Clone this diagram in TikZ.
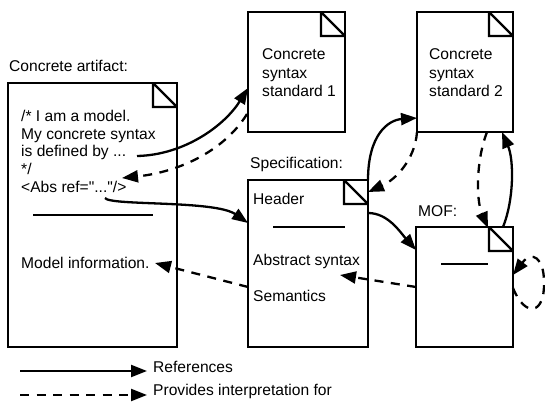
\documentclass[tikz,border=0pt]{standalone}
\usepackage{fontspec}
\setmainfont{Liberation Sans}
% same face without the TeX quote mapping, so " stays straight
\newfontfamily\plainquotes{Liberation Sans}
\usetikzlibrary{arrows.meta}
\begin{document}
\begin{tikzpicture}[x=1pt,y=-1pt,
  lw/.style={line width=2.3pt},
  docbox/.style={lw,draw,rectangle,inner sep=0pt,outer sep=0pt,anchor=north west},
  txt/.style={font=\fontsize{15.6}{18}\selectfont,inner sep=0pt,anchor=base west},
  tip/.style={-{Triangle[length=16pt,width=12pt]}},
  refarrow/.style={lw,tip},
  interp/.style={lw,tip,dash pattern=on 9pt off 7.5pt},
  foldline/.style={lw}
]
\useasboundingbox (0,0) rectangle (545,406);

% documents
\node[docbox,minimum width=169pt,minimum height=264pt] (art) at (8,83) {};
\node[docbox,minimum width=97pt,minimum height=120pt] (cs1) at (248,12) {};
\node[docbox,minimum width=96pt,minimum height=120pt] (cs2) at (417,12) {};
\node[docbox,minimum width=120pt,minimum height=167pt] (spec) at (248,180) {};
\node[docbox,minimum width=97pt,minimum height=120pt] (mof) at (416,227) {};

% folded page corners
\foreach \n in {art,cs1,cs2,spec,mof}
  \draw[foldline] ([xshift=-24pt]\n.north east) -- ++(0,24) -- ++(24,0)
                  ([xshift=-24pt]\n.north east) -- ++(24,24);

% separator rules
\draw[lw] (33,215) -- (153,215);
\draw[lw] (273,227) -- (345,227);
\draw[lw] (441,264) -- (488,264);

% titles
\node[txt] (tart) at (9,72) {Concrete artifact:};
\node[txt] (tspec) at (250,168) {Specification:};
\node[txt] (tmof) at (418,216) {MOF:};

% concrete artifact text
\node[txt] (l1) at (21,122) {/* I am a model.};
\node[txt] (l2) at (21,139.5) {My concrete syntax};
\node[txt] (l3) at (21,157) {is defined by ...};
\node[txt] (l4) at (21,174.5) {*/};
\node[txt,font=\fontsize{15.6}{18}\plainquotes] (l5) at (21,192) {<Abs ref="..."/>};
\node[txt] (l6) at (21,268) {Model information.};

% syntax standards
\node[txt] (c1a) at (262,60) {Concrete};
\node[txt] (c1b) at (262,78.5) {syntax};
\node[txt] (c1c) at (262,97) {standard 1};
\node[txt] (c2a) at (429,60) {Concrete};
\node[txt] (c2b) at (429,78.5) {syntax};
\node[txt] (c2c) at (429,97) {standard 2};

% specification contents
\node[txt] (sh) at (253,204) {Header};
\node[txt] (sa) at (253,265) {Abstract syntax};
\node[txt] (ss) at (253,301) {Semantics};

% connector end points
\coordinate (defby) at (137,156);
\coordinate (cs1in) at (248,88);
\coordinate (cs1out) at (247,114);
\coordinate (artin) at (122,178);
\coordinate (absref) at (105,198);
\coordinate (specin) at (248,223);
\coordinate (specout) at (248,287);
\coordinate (modinf) at (155,263);
\coordinate (spechr) at (368,213);
\coordinate (mofin) at (416,250);
\coordinate (mofout) at (416,287);
\coordinate (absin) at (340,275);
\coordinate (spectop) at (368,180);
\coordinate (cs2in) at (417,118);
\coordinate (cs2out) at (417,132);
\coordinate (specfold) at (368,192);
\coordinate (cs2b1) at (487,132);
\coordinate (moffold) at (488,228);
\coordinate (moftop) at (503,227);
\coordinate (cs2b2) at (502,132);
\coordinate (mofr1) at (513,288);
\coordinate (mofloop) at (544,282);
\coordinate (mofr2) at (513,275);

% references
\draw[refarrow] (defby) .. controls (185,155) and (225,125) .. (cs1in);
\draw[refarrow] (absref) .. controls (110,206) and (215,200) .. (specin);
\draw[refarrow] (spechr) .. controls (388,213) and (400,232) .. (mofin);
\draw[refarrow] (spectop) .. controls (368,135) and (388,120) .. (cs2in);
\draw[refarrow] (moftop) .. controls (514,200) and (514,160) .. (cs2b2);

% interpretations
\draw[interp] (cs1out) .. controls (225,150) and (180,172) .. (artin);
\draw[interp] (specout) -- (modinf);
\draw[interp] (mofout) -- (absin);
\draw[interp] (cs2out) .. controls (415,160) and (395,180) .. (specfold);
\draw[interp] (cs2b1) .. controls (476,160) and (476,200) .. (moffold);
\draw[interp] (mofr1) .. controls (525,318) and (545,315) .. (mofloop)
              .. controls (544,258) and (532,250) .. (mofr2);

% legend
\coordinate (lg1a) at (20,371);
\coordinate (lg1b) at (147,371);
\coordinate (lg2a) at (20,395);
\coordinate (lg2b) at (147,395);
\draw[refarrow] (lg1a) -- (lg1b);
\draw[interp] (lg2a) -- (lg2b);
\node[txt] (lref) at (153,372) {References};
\node[txt] (lint) at (153,395) {Provides interpretation for};
\end{tikzpicture}
\end{document}
